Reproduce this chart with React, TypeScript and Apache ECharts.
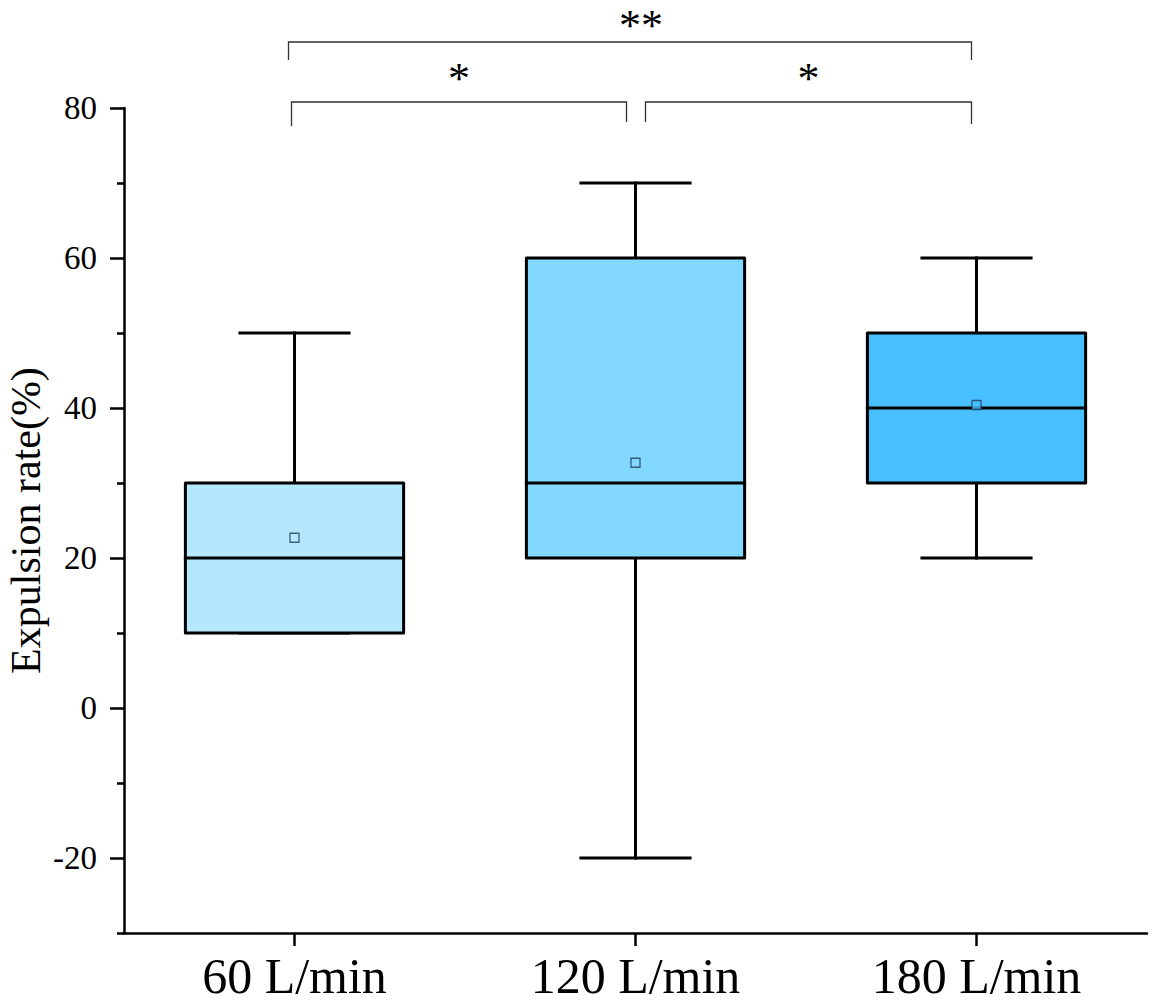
import React, { useEffect, useRef } from "react";
import * as echarts from "echarts";

const categories = ["60 L/min", "120 L/min", "180 L/min"];
const minValues = [10, -20, 20];
const q1Values = [10, 20, 30];
const medianValues = [20, 30, 40];
const q3Values = [30, 60, 50];
const maxValues = [50, 70, 60];
const meanValues = [22.7, 32.7, 40.4];
const boxColors = ["#B5E8FD", "#82D8FE", "#48BFFE"];
const yMajorTicks = [-20, 0, 20, 40, 60, 80];
const yMinorTicks = [-30, -10, 10, 30, 50, 70];
const comparisons = [
  { from: 0, to: 1, label: "*", level: 0 },
  { from: 1, to: 2, label: "*", level: 0 },
  { from: 0, to: 2, label: "**", level: 1 },
];

const FONT = "'Times New Roman', 'Liberation Serif', serif";

export default function App() {
  const ref = useRef<HTMLDivElement>(null);

  useEffect(() => {
    if (!ref.current) return;
    const chart = echarts.init(ref.current, null, { renderer: "svg" });

    const boxData = categories.map((_, i) => [
      i,
      minValues[i],
      q1Values[i],
      medianValues[i],
      q3Values[i],
      maxValues[i],
    ]);

    const option: any = {
      animation: false,
      backgroundColor: "#ffffff",
      grid: { left: 124, right: 6, top: 108, bottom: 71, containLabel: false, outerBoundsMode: "none" },
      xAxis: {
        type: "category",
        data: categories,
        boundaryGap: true,
        axisLine: { show: true, onZero: false, lineStyle: { color: "#000", width: 2.5 } },
        axisTick: { show: true, alignWithLabel: true, length: 13, lineStyle: { color: "#000", width: 2.5 } },
        axisLabel: { color: "#000", fontSize: 50, fontFamily: FONT, margin: 18, lineHeight: 50 },
        splitLine: { show: false },
      },
      yAxis: [
        {
          type: "value",
          min: -30,
          max: 80,
          position: "left",
          name: "Expulsion rate(%)",
          nameLocation: "middle",
          nameGap: 78,
          nameMoveOverlap: false,
          nameTextStyle: { color: "#000", fontSize: 42, lineHeight: 40, fontFamily: FONT },
          axisLine: { show: true, onZero: false, lineStyle: { color: "#000", width: 2.5 } },
          axisTick: { show: true, length: 14, customValues: yMajorTicks, lineStyle: { color: "#000", width: 2.5 } },
          axisLabel: { color: "#000", fontSize: 33, fontFamily: FONT, margin: 27, customValues: yMajorTicks },
          splitLine: { show: false },
        },
        {
          type: "value",
          min: -30,
          max: 80,
          position: "left",
          axisLine: { show: false, onZero: false },
          axisTick: { show: true, length: 7, customValues: yMinorTicks, lineStyle: { color: "#000", width: 2.5 } },
          axisLabel: { show: false },
          splitLine: { show: false },
        },
      ],
      series: [
        {
          type: "custom",
          name: "box",
          xAxisIndex: 0,
          yAxisIndex: 0,
          data: boxData,
          encode: { x: 0, y: [1, 2, 3, 4, 5] },
          z: 2,
          renderItem: (params: any, api: any) => {
            const idx = api.value(0);
            const x = api.coord([idx, 0])[0];
            const band = api.size([1, 0])[0];
            const bw = band * 0.64;
            const yMin = api.coord([idx, api.value(1)])[1];
            const yQ1 = api.coord([idx, api.value(2)])[1];
            const yMed = api.coord([idx, api.value(3)])[1];
            const yQ3 = api.coord([idx, api.value(4)])[1];
            const yMax = api.coord([idx, api.value(5)])[1];
            const lineStyle = { stroke: "#000", lineWidth: 3, lineCap: "square" };
            return {
              type: "group",
              children: [
                { type: "line", shape: { x1: x, y1: yQ3, x2: x, y2: yMax }, style: lineStyle },
                { type: "line", shape: { x1: x, y1: yQ1, x2: x, y2: yMin }, style: lineStyle },
                { type: "line", shape: { x1: x - bw / 4, y1: yMax, x2: x + bw / 4, y2: yMax }, style: lineStyle },
                { type: "line", shape: { x1: x - bw / 4, y1: yMin, x2: x + bw / 4, y2: yMin }, style: lineStyle },
                {
                  type: "rect",
                  shape: { x: x - bw / 2, y: yQ3, width: bw, height: yQ1 - yQ3 },
                  style: { fill: boxColors[params.dataIndex], stroke: "#000", lineWidth: 3, lineJoin: "round" },
                },
                { type: "line", shape: { x1: x - bw / 2, y1: yMed, x2: x + bw / 2, y2: yMed }, style: lineStyle },
              ],
            };
          },
        },
        {
          type: "scatter",
          name: "mean",
          xAxisIndex: 0,
          yAxisIndex: 0,
          z: 5,
          symbol: "rect",
          symbolSize: 9,
          data: meanValues.map((v, i) => ({
            value: [i, v],
            itemStyle: { color: boxColors[i], borderColor: "#1d3f5a", borderWidth: 1.3 },
          })),
        },
      ],
    };

    chart.setOption(option);

    const px = (i: number) => chart.convertToPixel({ xAxisIndex: 0 }, i) as number;
    const graphics: any[] = [];
    const lineStyle = { stroke: "#333", lineWidth: 1.3 };
    comparisons.forEach((c) => {
      let x1: number, x2: number, yTop: number, legL: number, legR: number, textY: number, textDx: number, lh: number;
      if (c.level === 1) {
        x1 = px(c.from) - 6;
        x2 = px(c.to) - 5;
        yTop = 42;
        legL = 60;
        legR = 60;
        textY = 1;
        lh = 48;
        textDx = 11;
      } else if (c.from === 0) {
        x1 = px(c.from) - 3;
        x2 = px(c.to) - 9;
        yTop = 102;
        legL = 126;
        legR = 122;
        textY = 60;
        lh = 36;
        textDx = 0;
      } else {
        x1 = px(c.from) + 10;
        x2 = px(c.to) - 5;
        yTop = 102;
        legL = 122;
        legR = 124;
        textY = 60;
        lh = 36;
        textDx = 0;
      }
      graphics.push({
        type: "polyline",
        shape: { points: [[x1, legL], [x1, yTop], [x2, yTop], [x2, legR]] },
        style: { ...lineStyle, fill: "none" },
        silent: true,
      });
      graphics.push({
        type: "text",
        x: (x1 + x2) / 2 + textDx,
        y: textY,
        style: {
          text: c.label,
          fontSize: 44,
          lineHeight: lh,
          fontFamily: FONT,
          fill: "#000",
          align: "center",
          verticalAlign: "top",
        },
        silent: true,
      });
    });
    chart.setOption({ graphic: graphics });

    return () => {
      chart.dispose();
    };
  }, []);

  return (
    <div
      ref={ref}
      style={{ position: "absolute", left: 0, top: 0, width: 1153, height: 1004, background: "#fff" }}
    />
  );
}
